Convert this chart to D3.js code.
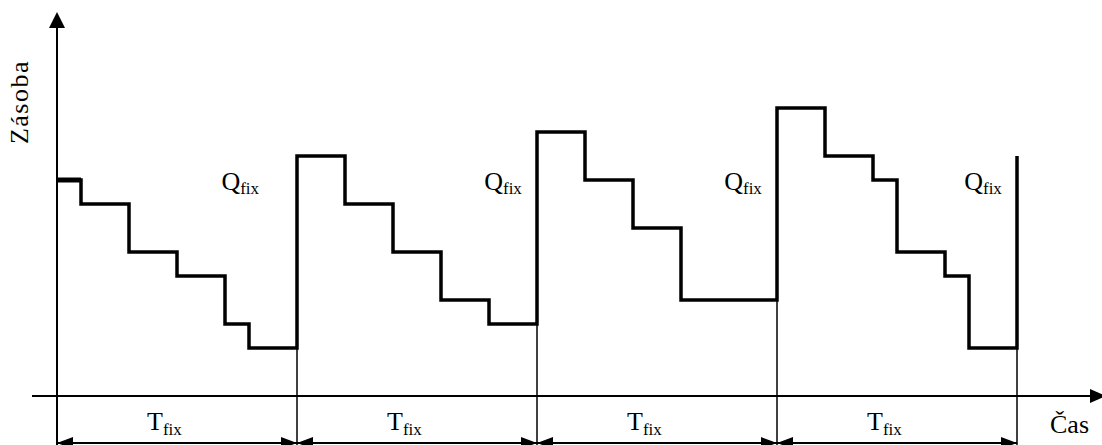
<!DOCTYPE html>
<html>
<head>
<meta charset="utf-8">
<script src="https://cdn.jsdelivr.net/npm/d3@7"></script>
<style>
  html, body { margin: 0; padding: 0; background: #fff; }
  svg { display: block; }
</style>
</head>
<body>
<svg id="chart" width="1102" height="445"></svg>
<script>
// ---- data ----
const changeTimes  = [0, 1, 3, 5, 7, 8, 10, 12, 14, 16, 18, 20, 22, 24, 26, 30, 32, 34, 35, 37, 38, 40];
const stockLevels  = [9, 8, 6, 5, 3, 2, 10, 8, 6, 4, 3, 11, 9, 7, 4, 12, 10, 9, 6, 5, 2, 10];
const periodBounds = [0, 10, 20, 30, 40];
const qLabelTimes  = [6.85, 17.8, 27.8, 37.8];
const qLabel = "Q", qSub = "fix";
const tLabel = "T", tSub = "fix";
const yTitle = "Zásoba";
const xTitle = "Čas";

const FONT = "Liberation Serif";

// ---- scales ----
const svg = d3.select("#chart");
const x = d3.scaleLinear().domain([0, 40]).range([57, 1017]);
const y = d3.scaleLinear().domain([0, 12]).range([396, 108]);
const axisY = y(0);
const dimY = 443;

// ---- axes ----
svg.append("line").attr("x1", 32).attr("x2", 1098).attr("y1", axisY).attr("y2", axisY)
  .attr("stroke", "#000").attr("stroke-width", 2);
svg.append("path").attr("d", `M1106,${axisY} L1090,${axisY - 7} L1090,${axisY + 7} Z`).attr("fill", "#000");

svg.append("line").attr("x1", x(0)).attr("x2", x(0)).attr("y1", 26).attr("y2", 445)
  .attr("stroke", "#000").attr("stroke-width", 2);
svg.append("path").attr("d", `M${x(0)},12 L${x(0) - 8},28 L${x(0) + 8},28 Z`).attr("fill", "#000");

// ---- thin period boundary lines ----
periodBounds.slice(1).forEach(t => {
  const idx = changeTimes.indexOf(t);
  const before = stockLevels[idx - 1];
  svg.append("line").attr("x1", x(t)).attr("x2", x(t)).attr("y1", y(before)).attr("y2", 445)
    .attr("stroke", "#000").attr("stroke-width", 1.5);
});

// ---- stock step line ----
const pts = changeTimes.map((t, i) => [t, stockLevels[i]]);
const line = d3.line().x(d => x(d[0])).y(d => y(d[1])).curve(d3.curveStepAfter);
svg.append("path").datum(pts).attr("d", line)
  .attr("fill", "none").attr("stroke", "#000").attr("stroke-width", 3.5)
  .attr("stroke-linejoin", "miter").attr("stroke-linecap", "butt");
svg.append("line").attr("x1", x(0)).attr("x2", x(1)).attr("y1", y(stockLevels[0])).attr("y2", y(stockLevels[0]))
  .attr("stroke", "#000").attr("stroke-width", 5);

// ---- dimension line ----
svg.append("line").attr("x1", x(0)).attr("x2", x(40)).attr("y1", dimY).attr("y2", dimY)
  .attr("stroke", "#000").attr("stroke-width", 2);
for (let i = 0; i < periodBounds.length - 1; i++) {
  const a = x(periodBounds[i]), b = x(periodBounds[i + 1]);
  svg.append("path").attr("d", `M${a},${dimY} L${a + 16},${dimY - 6} L${a + 16},${dimY + 6} Z`).attr("fill", "#000");
  svg.append("path").attr("d", `M${b},${dimY} L${b - 16},${dimY - 6} L${b - 16},${dimY + 6} Z`).attr("fill", "#000");
  const t = svg.append("text").attr("x", a + 90).attr("y", 430)
    .attr("font-family", FONT).attr("font-size", 26);
  t.append("tspan").text(tLabel);
  t.append("tspan").attr("font-size", 17).attr("dy", 5).text(tSub);
}

// ---- Q labels ----
qLabelTimes.forEach(qt => {
  const t = svg.append("text").attr("x", x(qt)).attr("y", 190)
    .attr("font-family", FONT).attr("font-size", 26);
  t.append("tspan").text(qLabel);
  t.append("tspan").attr("font-size", 17).attr("dy", 4).text(qSub);
});

// ---- titles ----
svg.append("text").attr("transform", `translate(28,102) rotate(-90)`)
  .attr("font-family", FONT)
  .attr("text-anchor", "middle").attr("font-size", 26).attr("letter-spacing", 1.5).text(yTitle);
svg.append("text").attr("x", 1050).attr("y", 433)
  .attr("font-family", FONT).attr("font-size", 26).text(xTitle);
</script>
</body>
</html>
